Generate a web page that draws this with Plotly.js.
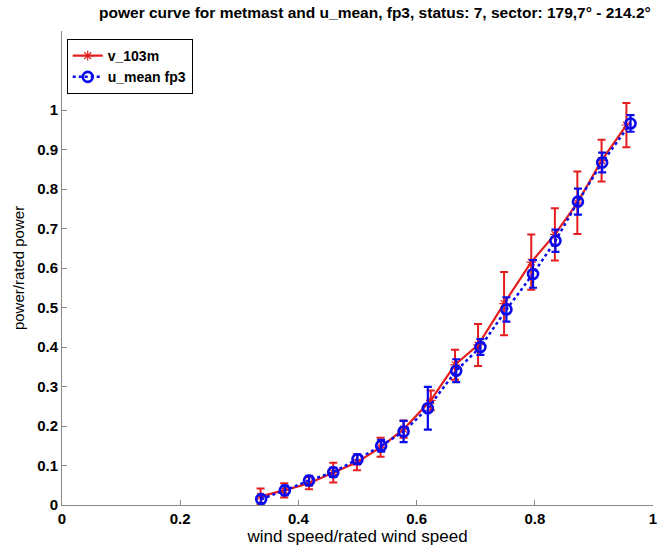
<!DOCTYPE html>
<html>
<head>
<meta charset="utf-8">
<script src="https://cdn.plot.ly/plotly-3.0.1.min.js"></script>
<style>html,body{margin:0;padding:0;background:#fff;}#chart{width:660px;height:550px;}</style>
</head>
<body>
<div id="chart"></div>
<script>
const redX   = [0.336, 0.376, 0.418, 0.459, 0.499, 0.539, 0.578, 0.624, 0.665, 0.704, 0.748, 0.794, 0.834, 0.872, 0.913, 0.955];
const redY   = [0.022, 0.037, 0.055, 0.082, 0.108, 0.146, 0.192, 0.265, 0.355, 0.405, 0.510, 0.615, 0.685, 0.765, 0.872, 0.962];
const redErr = [0.020, 0.018, 0.015, 0.025, 0.020, 0.024, 0.022, 0.025, 0.038, 0.053, 0.080, 0.070, 0.066, 0.079, 0.053, 0.056];

const blueX   = [0.337, 0.377, 0.418, 0.459, 0.500, 0.540, 0.578, 0.619, 0.667, 0.708, 0.752, 0.797, 0.835, 0.873, 0.914, 0.962];
const blueY   = [0.015, 0.037, 0.062, 0.083, 0.116, 0.150, 0.186, 0.245, 0.340, 0.400, 0.495, 0.585, 0.669, 0.768, 0.867, 0.966];
const blueErr = [0.010, 0.012, 0.012, 0.012, 0.012, 0.015, 0.027, 0.054, 0.029, 0.020, 0.031, 0.035, 0.028, 0.033, 0.025, 0.021];

const xTicks = [0, 0.2, 0.4, 0.6, 0.8, 1];
const xTickLabels = ["0", "0.2", "0.4", "0.6", "0.8", "1"];
const yTicks = [0, 0.1, 0.2, 0.3, 0.4, 0.5, 0.6, 0.7, 0.8, 0.9, 1];
const yTickLabels = ["0", "0.1", "0.2", "0.3", "0.4", "0.5", "0.6", "0.7", "0.8", "0.9", "1"];

const titleText = "power curve for metmast and u_mean, fp3, status: 7, sector: 179,7° - 214.2°";
const seriesNames = ["v_103m", "u_mean fp3"];

const RED = "rgb(228,30,30)";
const BLUE = "rgb(10,10,235)";
const FONT = "Liberation Sans, Arial, sans-serif";

const traces = [
  {
    x: redX, y: redY, name: seriesNames[0], type: "scatter", mode: "lines+markers",
    line: {color: RED, width: 2.2},
    marker: {symbol: "asterisk-open", size: 8, color: RED, line: {color: RED, width: 1.2}},
    error_y: {type: "data", array: redErr, visible: true, color: RED, thickness: 2, width: 4}
  },
  {
    x: blueX, y: blueY, name: seriesNames[1], type: "scatter", mode: "lines+markers",
    line: {color: BLUE, width: 2.5, dash: "dot"},
    marker: {symbol: "circle-open", size: 10, color: BLUE, line: {color: BLUE, width: 2.6}},
    error_y: {type: "data", array: blueErr, visible: true, color: BLUE, thickness: 2.2, width: 4}
  }
];

const layout = {
  width: 660, height: 550,
  paper_bgcolor: "#fff", plot_bgcolor: "#fff",
  margin: {l: 62, r: 7, t: 31, b: 45},
  font: {family: FONT, color: "#000"},
  showlegend: true,
  title: {
    text: "<b>" + titleText + "</b>",
    font: {family: FONT, size: 15.5, color: "#000"},
    x: 0.568, xanchor: "center", y: 0.978, yanchor: "middle"
  },
  xaxis: {
    range: [0, 1], tickvals: xTicks, ticktext: xTickLabels,
    ticks: "inside", ticklen: 5, tickcolor: "#888", showgrid: false, zeroline: false,
    showline: true, linecolor: "#888", linewidth: 1, ticklabeloverflow: "allow",
    tickfont: {family: FONT, size: 15, color: "#000", weight: "bold"},
    title: {text: "wind speed/rated wind speed", font: {family: FONT, size: 17, color: "#000"}, standoff: 0}
  },
  yaxis: {
    range: [0, 1.2], tickvals: yTicks, ticktext: yTickLabels,
    ticks: "inside", ticklen: 5, tickcolor: "#888", showgrid: false, zeroline: false,
    showline: true, linecolor: "#888", linewidth: 1,
    tickfont: {family: FONT, size: 15, color: "#000", weight: "bold"},
    title: {text: "power/rated power", font: {family: FONT, size: 15, color: "#000"}, standoff: 8}
  },
  legend: {
    x: 0.008, y: 0.983, xanchor: "left", yanchor: "top",
    bgcolor: "#fff", bordercolor: "#000", borderwidth: 1,
    font: {family: FONT, size: 14, color: "#000", weight: "bold"},
    tracegroupgap: 0, itemwidth: 30
  }
};

Plotly.newPlot("chart", traces, layout, {staticPlot: true, displayModeBar: false});
</script>
</body>
</html>
